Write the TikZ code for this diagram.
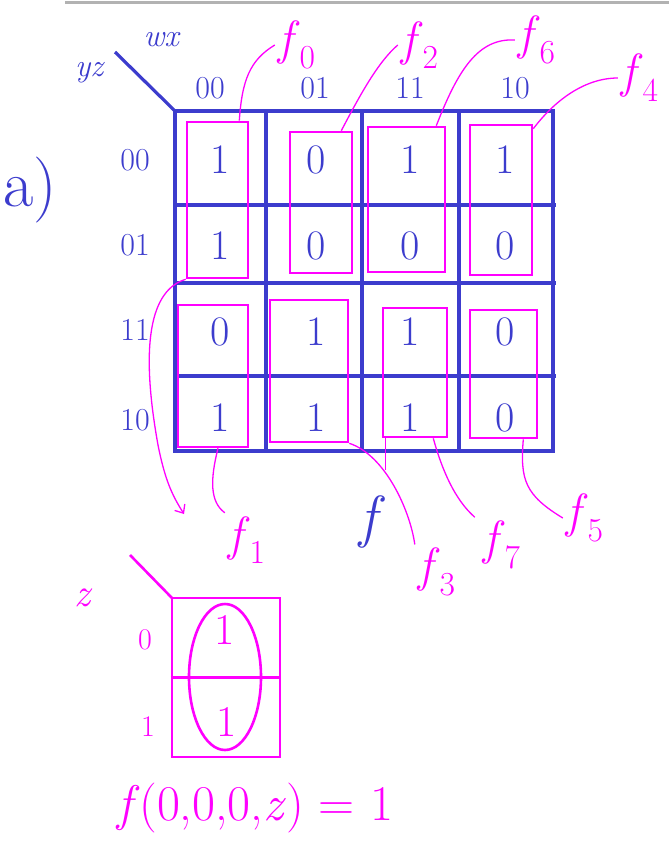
\documentclass[tikz,border=0pt]{standalone}
\usepackage{fontspec}
\usepackage{tikz}
\usetikzlibrary{arrows.meta}
\definecolor{kblue}{RGB}{60,60,205}
\definecolor{kmag}{RGB}{255,0,255}
\newcommand{\fsub}[1]{\textit{f}\textsubscript{#1}}

\begin{document}
\begin{tikzpicture}[x=1pt,y=-1pt,
		grid/.style={kblue,line width=3.2pt},
		grp/.style={draw=kmag,line width=2.6pt,rectangle,inner sep=0pt},
		lead/.style={kmag,line width=1.3pt},
		bit/.style={kblue,font=\fontsize{42}{42}\selectfont},
		lbl/.style={kblue,font=\fontsize{32}{32}\selectfont},
		fn/.style={kmag,font=\fontsize{48}{48}\selectfont}]
			\useasboundingbox (0,0) rectangle (669,849);
			\draw[gray!60,line width=3pt] (65,2) -- (669,2);
			% 4-variable map
			\draw[grid] (175,111) rectangle (553,451);
			\foreach \x in {266,362,459} \draw[grid] (\x,111) -- (\x,451);
			\foreach \y in {205,283,376} \draw[grid] (175,\y) -- (556,\y);
			\draw[grid] (115,52) -- (175,111);
			\node[lbl] (wx) at (162,40) {\textit{wx}};
			\node[lbl] (yz) at (90,73) {\textit{yz}};
			\node[kblue,font=\fontsize{66}{66}\selectfont] (part) at (30,190) {a)};
			\foreach \t/\x in {00/210,01/315,11/410,10/515} \node[lbl] (c\t) at (\x,88) {\t};
			\foreach \t/\y in {00/160,01/245,11/330,10/420} \node[lbl] (r\t) at (135,\y) {\t};
			\foreach \v [count=\i from 0] in {1,0,1,1, 1,0,0,0, 0,1,1,0, 1,1,1,0} {
				\pgfmathtruncatemacro\col{mod(\i,4)}
				\pgfmathtruncatemacro\row{div(\i,4)}
				\pgfmathsetmacro\cx{{220,316,410,505}[\col]}
				\pgfmathsetmacro\cy{{160,246,332,418}[\row]}
				\node[bit] (b\i) at (\cx,\cy) {\v};
			}
			% groups
			\node[grp,minimum width=61,minimum height=156] (g0) at (217.5,200) {};
			\node[grp,minimum width=62,minimum height=141] (g2) at (321,202.5) {};
			\node[grp,minimum width=77,minimum height=145] (g6) at (406.5,199.5) {};
			\node[grp,minimum width=62,minimum height=150] (g4) at (501,200) {};
			\node[grp,minimum width=70,minimum height=142] (g1) at (213,376) {};
			\node[grp,minimum width=78,minimum height=142] (g3) at (309,371) {};
			\node[grp,minimum width=64,minimum height=129] (g7) at (415,372.5) {};
			\node[grp,minimum width=67,minimum height=128] (g5) at (503.5,374) {};
			\node[fn] (lf0) at (297,45) {\fsub{0}};
			\node[fn] (lf2) at (420,45) {\fsub{2}};
			\node[fn] (lf6) at (537,40) {\fsub{6}};
			\node[fn] (lf4) at (640,78) {\fsub{4}};
			\node[fn] (lf1) at (247,540) {\fsub{1}};
			\node[fn] (lf3) at (437,572) {\fsub{3}};
			\node[fn] (lf7) at (502,545) {\fsub{7}};
			\node[fn] (lf5) at (585,518) {\fsub{5}};
			\node[kblue,font=\fontsize{58}{58}\selectfont] (lf) at (372,522) {\textit{f}};
			\draw[lead] ([xshift=-10pt]g0.north east) .. controls (242,80) and (250,60) .. (lf0.west);
			\draw[lead] ([xshift=-12pt]g2.north east) .. controls (360,95) and (378,62) .. (lf2.west);
			\draw[lead] ([xshift=-10pt]g6.north east) .. controls (458,70) and (478,38) .. (lf6.west);
			\draw[lead] ([yshift=-5pt]g4.north east) .. controls (555,100) and (585,78) .. (lf4.west);
			\draw[lead,-{Straight Barb[length=7pt,width=12pt]}] (g0.south west) .. controls (150,290) and (140,345) .. (158,445) .. controls (165,480) and (172,495) .. (184,514);
			\draw[lead] ([xshift=5pt]g1.south) .. controls (210,480) and (210,502) .. (lf1.north west);
			\draw[lead] (g3.south east) .. controls (385,455) and (410,510) .. (lf3.north west);
			\draw[lead] ([xshift=-15pt]g7.south east) .. controls (442,470) and (455,500) .. ([xshift=-5pt]lf7.north west);
			\draw[lead] ([xshift=4pt]g7.south west) -- ++(0,32);
			\draw[lead] ([xshift=-15pt]g5.south east) .. controls (520,480) and (525,495) .. (lf5.west);
			% 1-variable map
			\draw[kmag,line width=2.6pt] (130,555) -- (172,598);
			\node[kmag,font=\fontsize{40}{40}\selectfont] (vz) at (84,598) {\textit{z}};
			\node[grp,minimum width=108,minimum height=159] (m) at (226,677.5) {};
			\draw[kmag,line width=2.6pt] (m.west) -- (m.east);
			\node[kmag,font=\fontsize{30}{30}\selectfont] (m0) at (145,640) {0};
			\node[kmag,font=\fontsize{30}{30}\selectfont] (m1) at (148,727) {1};
			\node[kmag,font=\fontsize{44}{44}\selectfont] (n0) at (225,630) {1};
			\node[kmag,font=\fontsize{44}{44}\selectfont] (n1) at (227,722) {1};
			\draw[kmag,line width=2.6pt] (225,677) ellipse (36 and 73);
			\node[kmag,font=\fontsize{50}{50}\selectfont] (res) at (255,808) {\textit{f}(0,0,0,\textit{z}) = 1};
		\end{tikzpicture}
\end{document}
